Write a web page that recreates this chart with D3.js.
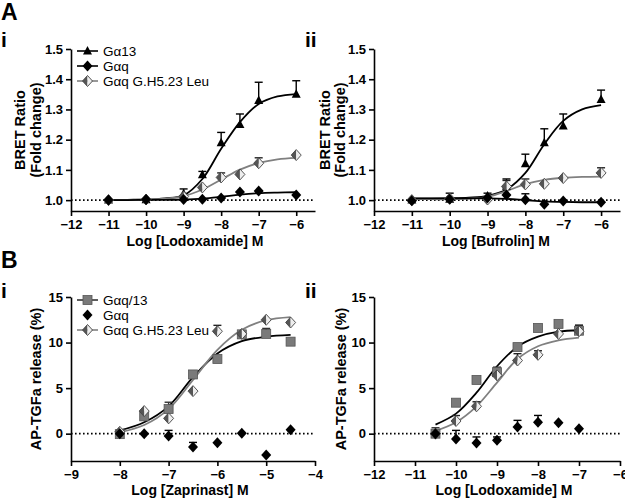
<!DOCTYPE html>
<html>
<head>
<meta charset="UTF-8" />
<title>BRET / AP-TGFa dose response</title>
<style>
    body, html { margin: 0; padding: 0; background: #fff; }
    svg { display: block; font-family: "Liberation Sans", Arial, sans-serif; }
    .axis path, .axis line { stroke: #000; stroke-width: 1.6px; }
</style>
</head>
<body>
<svg width="625" height="501"></svg>
<script src="https://d3js.org/d3.v7.min.js"></script>
<script>
// ---- A i : Lodoxamide, BRET ----
const doseA1 = [-11, -10, -9, -8.5, -8, -7.5, -7, -6];
const a1G13 = [1.000, 1.001, 1.021, 1.084, 1.190, 1.250, 1.330, 1.350];
const a1G13Err = [0, 0, 0.016, 0.011, 0.034, 0.035, 0.060, 0.045];
const a1Gq = [1.000, 1.002, 1.002, 1.003, 1.007, 1.027, 1.030, 1.017];
const a1GqErr = [0, 0, 0, 0, 0, 0, 0, 0];
const a1Leu = [1.000, 1.002, 1.012, 1.042, 1.075, 1.085, 1.122, 1.149];
const a1LeuErr = [0, 0, 0, 0, 0.015, 0, 0.018, 0];
// fitted curves
const fitXA = [-11, -10.5, -10, -9.5, -9, -8.5, -8, -7.5, -7, -6.5, -6];
const a1G13Fit = [1.000, 1.001, 1.002, 1.006, 1.016, 1.070, 1.170, 1.258, 1.318, 1.343, 1.351];
const a1GqFit = [1.000, 1.000, 1.001, 1.001, 1.002, 1.005, 1.011, 1.018, 1.023, 1.025, 1.026];
const a1LeuFit = [1.000, 1.000, 1.002, 1.005, 1.013, 1.035, 1.068, 1.101, 1.123, 1.135, 1.140];

// ---- A ii : Bufrolin, BRET ----
const doseA2 = [-11, -10, -9, -8.5, -8, -7.5, -7, -6];
const a2G13 = [1.000, 1.003, 1.014, 1.046, 1.120, 1.190, 1.245, 1.333];
const a2G13Err = [0, 0.020, 0.009, 0.024, 0.032, 0.046, 0.040, 0.031];
const a2Gq = [0.998, 1.003, 1.008, 1.017, 1.001, 0.986, 0.997, 0.993];
const a2GqErr = [0, 0, 0, 0, 0.020, 0, 0, 0];
const a2Leu = [1.000, 1.005, 1.002, 1.045, 1.052, 1.054, 1.073, 1.090];
const a2LeuErr = [0, 0, 0, 0.020, 0.018, 0, 0, 0.017];
const a2G13Fit = [1.005, 1.005, 1.006, 1.008, 1.014, 1.035, 1.090, 1.185, 1.262, 1.300, 1.314];
const a2GqFit = [1.006, 1.006, 1.006, 1.006, 1.006, 1.004, 1.000, 0.996, 0.994, 0.993, 0.993];
const a2LeuFit = [1.003, 1.003, 1.003, 1.005, 1.011, 1.030, 1.053, 1.067, 1.074, 1.077, 1.078];

// ---- B i : Zaprinast, AP-TGFa ----
const doseB1 = [-8, -7.5, -7, -6.5, -6, -5.5, -5, -4.5];
const b1Gq13 = [-0.05, 1.9, 2.7, 6.5, 8.2, 10.9, 10.95, 10.1];
const b1Gq13Err = [0.3, 0, 0.75, 0, 0, 0, 0.6, 0];
const b1Gq = [0, 0, -0.26, -1.46, -0.99, 0.04, -2.34, 0.44];
const b1GqErr = [0, 0, 0.62, 0.5, 0, 0, 0, 0];
const b1Leu = [0.2, 2.48, 1.68, 4.67, 11.24, 10.95, 12.5, 12.2];
const b1LeuErr = [0, 0, 0, 0, 0.65, 0, 0, 0];
const fitXB1 = [-8, -7.5, -7, -6.5, -6, -5.5, -5, -4.5];
const b1Gq13Fit = [0.35, 1.25, 3.0, 6.2, 8.8, 10.15, 10.65, 10.85];
const b1LeuFit = [0.15, 0.95, 2.7, 5.9, 9.2, 11.4, 12.45, 12.8];

// ---- B ii : Lodoxamide, AP-TGFa ----
const doseB2 = [-10.5, -10, -9.5, -9, -8.5, -8, -7.5, -7];
const b2Gq13 = [0.0, 3.4, 5.9, 6.75, 9.5, 11.6, 12.05, 11.3];
const b2Gq13Err = [0.65, 0, 0.2, 0.55, 0, 0, 0.3, 0.6];
const b2Gq = [0, -0.58, -1.02, -0.73, 0.73, 1.24, 1.2, 0.55];
const b2GqErr = [0, 0.94, 0.66, 0.37, 0.73, 0.76, 0, 0];
const b2Leu = [0.0, 1.39, 3.0, 6.4, 8.03, 8.65, 10.95, 11.24];
const b2LeuErr = [0, 0.6, 0.5, 0, 0.75, 0.45, 0, 0.65];
const fitXB2 = [-10.5, -10, -9.5, -9, -8.5, -8, -7.5, -7];
const b2Gq13Fit = [1.0, 2.2, 4.5, 7.4, 9.55, 10.65, 11.2, 11.35];
const b2LeuFit = [0.3, 1.25, 3.0, 5.6, 8.2, 9.6, 10.25, 10.55];

const ticksA_y = [1.0, 1.1, 1.2, 1.3, 1.4, 1.5];
const ticksA_x = [-12, -11, -10, -9, -8, -7, -6];
const ticksB_y = [0, 5, 10, 15];
const ticksB1_x = [-9, -8, -7, -6, -5, -4];
const ticksB2_x = [-12, -11, -10, -9, -8, -7, -6];

const FONT = '"Liberation Sans", Arial, sans-serif';
const svg = d3.select("svg");

// marker shapes
function marker(g, type, x, y) {
    if (type === "tri") {
        g.append("path").attr("d", `M${x},${y - 5}L${x + 4.5},${y + 3.5}L${x - 4.5},${y + 3.5}Z`)
            .attr("fill", "#000");
    } else if (type === "dia") {
        g.append("path").attr("d", `M${x},${y - 5.5}L${x + 5},${y}L${x},${y + 5.5}L${x - 5},${y}Z`)
            .attr("fill", "#000");
    } else if (type === "half") {
        g.append("path").attr("d", `M${x},${y - 5.5}L${x},${y + 5.5}L${x - 5},${y}Z`).attr("fill", "#555");
        g.append("path").attr("d", `M${x},${y - 5.5}L${x + 5},${y}L${x},${y + 5.5}Z`).attr("fill", "#eee");
        g.append("path").attr("d", `M${x},${y - 5.5}L${x + 5},${y}L${x},${y + 5.5}L${x - 5},${y}Z`)
            .attr("fill", "none").attr("stroke", "#444").attr("stroke-width", 0.9);
    } else if (type === "sq") {
        g.append("rect").attr("x", x - 4.5).attr("y", y - 4.5).attr("width", 9).attr("height", 9)
            .attr("fill", "#7a7a7a").attr("stroke", "#555").attr("stroke-width", 0.8);
    }
}

function styleTicks(a) {
    a.attr("font-family", FONT).attr("font-size", 13).attr("font-weight", "bold");
}

function drawPanel(p) {
    const x = d3.scaleLinear().domain(p.xDomain).range(p.xRange);
    const y = d3.scaleLinear().domain(p.yDomain).range(p.yRange);
    const g = svg.append("g");

    // dotted baseline
    g.append("line")
        .attr("x1", p.xRange[0]).attr("x2", p.xRange[1])
        .attr("y1", y(p.base)).attr("y2", y(p.base))
        .attr("stroke", "#000").attr("stroke-width", 1.6).attr("stroke-dasharray", "1.6,2.4");

    g.append("g").attr("class", "axis")
        .attr("transform", `translate(0,${p.yRange[0]})`)
        .call(d3.axisBottom(x).tickValues(p.xTicks).tickSize(5).tickSizeOuter(0).tickPadding(4).tickFormat(d3.format("d")))
        .call(styleTicks);

    g.append("g").attr("class", "axis")
        .attr("transform", `translate(${p.xRange[0]},0)`)
        .call(d3.axisLeft(y).tickValues(p.yTicks).tickSize(5).tickSizeOuter(0).tickPadding(3).tickFormat(p.yFormat))
        .call(styleTicks);
    g.selectAll(".axis .domain").attr("fill", "none");

    // fitted curves
    const line = d3.line().x(d => x(d[0])).y(d => y(d[1])).curve(d3.curveCatmullRom.alpha(0.5));
    p.series.forEach(s => {
        if (!s.fit) return;
        g.append("path").datum(s.fitX.map((v, i) => [v, s.fit[i]]))
            .attr("d", line).attr("fill", "none")
            .attr("stroke", s.curveColor).attr("stroke-width", 1.8);
    });

    // error bars (up only) and markers
    p.series.forEach(s => {
        s.dose.forEach((d, i) => {
            const e = s.err[i];
            if (e > 0) {
                const cx = x(d), y0 = y(s.vals[i]), y1 = y(s.vals[i] + e);
                g.append("line").attr("x1", cx).attr("x2", cx).attr("y1", y0).attr("y2", y1)
                    .attr("stroke", s.errColor).attr("stroke-width", 1.4);
                g.append("line").attr("x1", cx - 4).attr("x2", cx + 4).attr("y1", y1).attr("y2", y1)
                    .attr("stroke", s.errColor).attr("stroke-width", 1.4);
            }
        });
    });
    p.series.forEach(s => {
        s.dose.forEach((d, i) => marker(g, s.mark, x(d), y(s.vals[i])));
    });

    // axis titles
    g.append("text").attr("x", p.xTitleX).attr("y", p.xTitleY)
        .attr("text-anchor", "middle").attr("font-size", 14).attr("font-weight", "bold")
        .text(p.xTitle);
    const cy = (p.yRange[0] + p.yRange[1]) / 2;
    p.yTitle.forEach((t, i) => {
        g.append("text").attr("transform", `translate(${p.yTitleX[i]},${cy}) rotate(-90)`)
            .attr("text-anchor", "middle").attr("font-size", 14.5).attr("font-weight", "bold")
            .text(t);
    });

    // legend
    if (p.legend) {
        p.legend.forEach((s, i) => {
            const ly = p.legendY + i * 15;
            if (s.line) {
                g.append("line").attr("x1", 77).attr("x2", 98).attr("y1", ly).attr("y2", ly)
                    .attr("stroke", s.line).attr("stroke-width", 1.6);
            }
            marker(g, s.mark, 87.5, ly);
            g.append("text").attr("x", 103).attr("y", ly + 5)
                .attr("font-size", 13.5).text(s.name);
        });
    }
}

drawPanel({
    xDomain: [-12, -5.5], xRange: [71, 315], yDomain: [0.964, 1.5], yRange: [211, 49],
    xTicks: ticksA_x, yTicks: ticksA_y, yFormat: d3.format(".1f"), base: 1.0,
    xTitle: "Log [Lodoxamide] M", xTitleX: 195, xTitleY: 246,
    yTitle: ["BRET Ratio", "(Fold change)"], yTitleX: [25, 41],
    series: [
        { dose: doseA1, vals: a1G13, err: a1G13Err, mark: "tri", errColor: "#000", fitX: fitXA, fit: a1G13Fit, curveColor: "#000" },
        { dose: doseA1, vals: a1Leu, err: a1LeuErr, mark: "half", errColor: "#222", fitX: fitXA, fit: a1LeuFit, curveColor: "#808080" },
        { dose: doseA1, vals: a1Gq, err: a1GqErr, mark: "dia", errColor: "#000", fitX: fitXA, fit: a1GqFit, curveColor: "#000" }
    ],
    legendY: 51,
    legend: [
        { name: "G\u03b113", mark: "tri", line: "#000" },
        { name: "G\u03b1q", mark: "dia", line: "#000" },
        { name: "G\u03b1q G.H5.23 Leu", mark: "half", line: "#808080" }
    ]
});

drawPanel({
    xDomain: [-12, -5.5], xRange: [374, 620], yDomain: [0.964, 1.5], yRange: [211, 49],
    xTicks: ticksA_x, yTicks: ticksA_y, yFormat: d3.format(".1f"), base: 1.0,
    xTitle: "Log [Bufrolin] M", xTitleX: 496, xTitleY: 246,
    yTitle: ["BRET Ratio", "(Fold change)"], yTitleX: [330, 345],
    series: [
        { dose: doseA2, vals: a2G13, err: a2G13Err, mark: "tri", errColor: "#000", fitX: fitXA, fit: a2G13Fit, curveColor: "#000" },
        { dose: doseA2, vals: a2Leu, err: a2LeuErr, mark: "half", errColor: "#222", fitX: fitXA, fit: a2LeuFit, curveColor: "#808080" },
        { dose: doseA2, vals: a2Gq, err: a2GqErr, mark: "dia", errColor: "#000", fitX: fitXA, fit: a2GqFit, curveColor: "#000" }
    ]
});

drawPanel({
    xDomain: [-9, -4], xRange: [71, 315], yDomain: [-3, 15], yRange: [461, 297],
    xTicks: ticksB1_x, yTicks: ticksB_y, yFormat: d3.format("d"), base: 0,
    xTitle: "Log [Zaprinast] M", xTitleX: 190, xTitleY: 495,
    yTitle: ["AP-TGFa  release (%)"], yTitleX: [41],
    series: [
        { dose: doseB1, vals: b1Gq13, err: b1Gq13Err, mark: "sq", errColor: "#333", fitX: fitXB1, fit: b1Gq13Fit, curveColor: "#000" },
        { dose: doseB1, vals: b1Leu, err: b1LeuErr, mark: "half", errColor: "#222", fitX: fitXB1, fit: b1LeuFit, curveColor: "#808080" },
        { dose: doseB1, vals: b1Gq, err: b1GqErr, mark: "dia", errColor: "#000" }
    ],
    legendY: 300,
    legend: [
        { name: "G\u03b1q/13", mark: "sq", line: "#333" },
        { name: "G\u03b1q", mark: "dia", line: null },
        { name: "G\u03b1q G.H5.23 Leu", mark: "half", line: "#808080" }
    ]
});

drawPanel({
    xDomain: [-12, -6], xRange: [374, 620], yDomain: [-3, 15], yRange: [461, 297],
    xTicks: ticksB2_x, yTicks: ticksB_y, yFormat: d3.format("d"), base: 0,
    xTitle: "Log [Lodoxamide] M", xTitleX: 504, xTitleY: 495,
    yTitle: ["AP-TGFa  release (%)"], yTitleX: [346],
    series: [
        { dose: doseB2, vals: b2Gq13, err: b2Gq13Err, mark: "sq", errColor: "#333", fitX: fitXB2, fit: b2Gq13Fit, curveColor: "#000" },
        { dose: doseB2, vals: b2Leu, err: b2LeuErr, mark: "half", errColor: "#222", fitX: fitXB2, fit: b2LeuFit, curveColor: "#808080" },
        { dose: doseB2, vals: b2Gq, err: b2GqErr, mark: "dia", errColor: "#000" }
    ]
});

// panel letters
const letters = [
    { t: "A", x: 1, y: 20, s: 23 },
    { t: "i", x: 1, y: 47, s: 21 },
    { t: "ii", x: 305, y: 47, s: 21 },
    { t: "B", x: 1, y: 268, s: 23 },
    { t: "i", x: 1, y: 298, s: 21 },
    { t: "ii", x: 305, y: 298, s: 21 }
];
svg.selectAll("text.letter").data(letters).join("text").attr("class", "letter")
    .attr("x", d => d.x).attr("y", d => d.y)
    .attr("font-size", d => d.s).attr("font-weight", "bold").text(d => d.t);
</script>
</body>
</html>
